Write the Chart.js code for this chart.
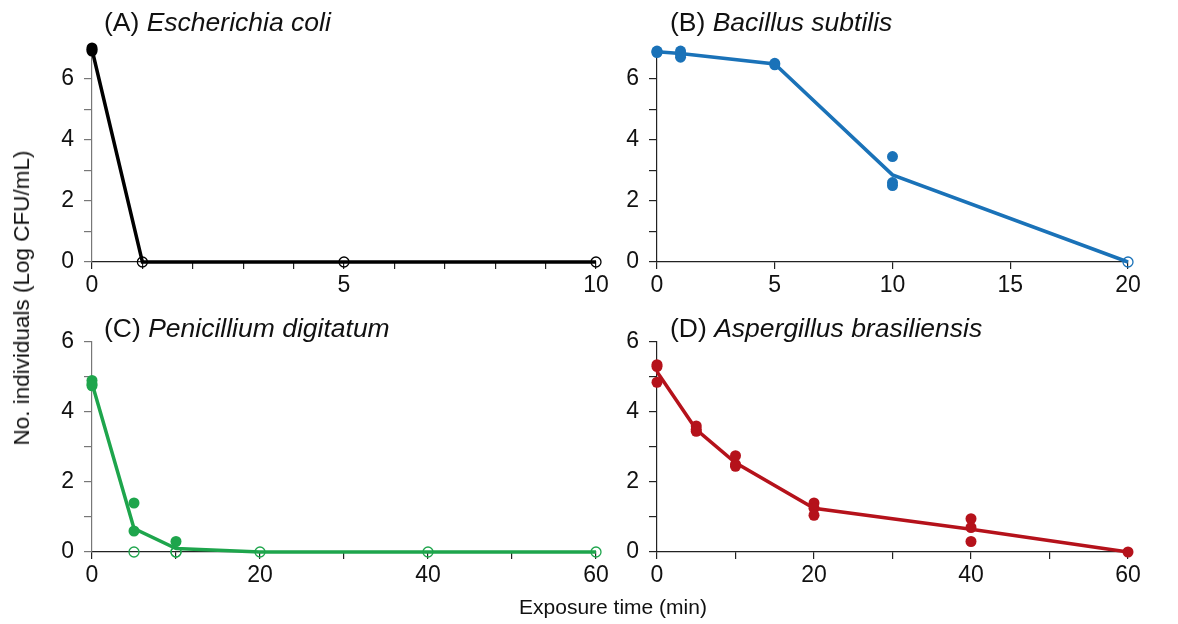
<!DOCTYPE html>
<html>
<head>
<meta charset="utf-8">
<script src="https://cdn.jsdelivr.net/npm/chart.js@4/dist/chart.umd.min.js"></script>
<style>
  body { margin: 0; background: #fff; font-family: "Liberation Sans", Arial, sans-serif; }
  #page { position: relative; width: 1178px; height: 624px; overflow: hidden; }
  .panel { position: absolute; }
  .ttl { position: absolute; font-size: 26.5px; color: #111; white-space: nowrap; }
  .ttl i { font-style: italic; }
  #ytitle { position: absolute; left: 22px; top: 298px; transform: translate(-50%, -50%) rotate(-90deg);
            font-size: 22.5px; color: #111; white-space: nowrap; }
  #xtitle { position: absolute; left: 613px; top: 607px; transform: translate(-50%, -50%);
            font-size: 21px; color: #111; white-space: nowrap; }
</style>
</head>
<body>
<div id="page">
  <div class="panel" style="left:20px;top:0;width:600px;height:310px"><canvas id="chartA"></canvas></div>
  <div class="panel" style="left:595px;top:0;width:583px;height:310px"><canvas id="chartB"></canvas></div>
  <div class="panel" style="left:20px;top:300px;width:600px;height:324px"><canvas id="chartC"></canvas></div>
  <div class="panel" style="left:595px;top:300px;width:583px;height:324px"><canvas id="chartD"></canvas></div>
  <div class="ttl" style="left:104px;top:7px">(A) <i>Escherichia coli</i></div>
  <div class="ttl" style="left:670px;top:7px">(B) <i>Bacillus subtilis</i></div>
  <div class="ttl" style="left:104px;top:313px">(C) <i>Penicillium digitatum</i></div>
  <div class="ttl" style="left:670px;top:313px">(D) <i>Aspergillus brasiliensis</i></div>
  <div id="ytitle">No. individuals (Log CFU/mL)</div>
  <div id="xtitle">Exposure time (min)</div>
</div>
<script>
// (A) Escherichia coli
var aFilledX = [0, 0, 0];
var aFilledY = [6.9, 7.0, 6.95];
var aOpenX = [1, 5, 10];
var aOpenY = [0, 0, 0];
var aLineX = [0, 1, 5, 10];
var aLineY = [6.95, 0, 0, 0];
var aXLabels = [0, 5, 10];

// (B) Bacillus subtilis
var bFilledX = [0, 0, 0, 1, 1, 1, 5, 5, 10, 10, 10];
var bFilledY = [6.85, 6.9, 6.88, 6.9, 6.8, 6.7, 6.5, 6.45, 3.45, 2.6, 2.5];
var bOpenX = [20];
var bOpenY = [0];
var bLineX = [0, 1, 5, 10, 20];
var bLineY = [6.88, 6.82, 6.48, 2.85, 0];
var bXLabels = [0, 5, 10, 15, 20];

// (C) Penicillium digitatum
var cFilledX = [0, 0, 0, 5, 5, 10];
var cFilledY = [4.9, 4.8, 4.75, 1.4, 0.6, 0.3];
var cOpenX = [5, 10, 10, 20, 40, 60];
var cOpenY = [0, 0, 0, 0, 0, 0];
var cLineX = [0, 5, 10, 20, 40, 60];
var cLineY = [4.82, 0.67, 0.1, 0, 0, 0];
var cXLabels = [0, 20, 40, 60];

// (D) Aspergillus brasiliensis
var dFilledX = [0, 0, 0, 5, 5, 5, 10, 10, 10, 20, 20, 20, 40, 40, 40, 60];
var dFilledY = [5.35, 5.3, 4.85, 3.6, 3.5, 3.45, 2.75, 2.5, 2.45, 1.4, 1.25, 1.05, 0.95, 0.7, 0.3, 0];
var dOpenX = [];
var dOpenY = [];
var dLineX = [0, 5, 10, 20, 40, 60];
var dLineY = [5.15, 3.5, 2.55, 1.25, 0.65, 0];
var dXLabels = [0, 20, 40, 60];

var yLabels = [0, 2, 4, 6];

function pts(xs, ys) {
    return xs.map((x, i) => ({ x: x, y: ys[i] }));
}

function makePanel(id, cfg) {
    new Chart(id, {
        type: "scatter",
        data: {
            datasets: [
                {
                    data: pts(cfg.filledX, cfg.filledY),
                    backgroundColor: cfg.color,
                    borderColor: cfg.color,
                    pointRadius: 5.5,
                    borderWidth: 0,
                    order: 0,
                },
                {
                    data: pts(cfg.openX, cfg.openY),
                    backgroundColor: "rgba(255,255,255,0)",
                    borderColor: cfg.color,
                    pointRadius: 5,
                    pointBorderWidth: 1.3,
                    order: 1,
                },
                {
                    type: "line",
                    data: pts(cfg.lineX, cfg.lineY),
                    borderColor: cfg.color,
                    borderWidth: 3.5,
                    pointRadius: 0,
                    tension: 0,
                    order: 2,
                },
            ],
        },
        options: {
            responsive: true,
            maintainAspectRatio: false,
            animation: false,
            clip: false,
            layout: { padding: cfg.padding },
            scales: {
                x: {
                    type: "linear",
                    min: cfg.xMin,
                    max: cfg.xMax,
                    afterFit: s => { s.height = 40; },
                    border: { display: true, color: "#222", width: 1.2 },
                    grid: { drawOnChartArea: false, drawTicks: true, tickLength: 7, color: "#222", lineWidth: 1.2 },
                    ticks: {
                        stepSize: cfg.xStep,
                        autoSkip: false,
                        maxRotation: 0,
                        padding: 3,
                        color: "#111",
                        font: { family: "Liberation Sans", size: 23 },
                        callback: v => (cfg.xLabels.includes(v) ? v : ""),
                    },
                },
                y: {
                    min: 0,
                    max: cfg.yMax,
                    afterFit: s => { s.width = 50; },
                    afterBuildTicks: s => { s.ticks = s.ticks.filter(t => t.value <= 6); },
                    border: { display: true, color: cfg.yAxisColor, width: 1.2 },
                    grid: { drawOnChartArea: false, drawTicks: true, tickLength: 8, color: cfg.yAxisColor, lineWidth: 1.2 },
                    ticks: {
                        stepSize: 1,
                        padding: 10,
                        color: "#111",
                        font: { family: "Liberation Sans", size: 23 },
                        callback: v => (yLabels.includes(v) ? v : ""),
                    },
                },
            },
            plugins: {
                legend: { display: false },
                tooltip: { enabled: false },
            },
        },
    });
}

makePanel("chartA", {
    filledX: aFilledX, filledY: aFilledY, openX: aOpenX, openY: aOpenY, lineX: aLineX, lineY: aLineY,
    xLabels: aXLabels, xMin: 0, xMax: 10, xStep: 1, yMax: 7, color: "#000000", yAxisColor: "#777",
    padding: { left: 22, right: 24, top: 48, bottom: 8 },
});
makePanel("chartB", {
    filledX: bFilledX, filledY: bFilledY, openX: bOpenX, openY: bOpenY, lineX: bLineX, lineY: bLineY,
    xLabels: bXLabels, xMin: 0, xMax: 20, xStep: 5, yMax: 7, color: "#1a72b8", yAxisColor: "#222",
    padding: { left: 12, right: 50, top: 48, bottom: 8 },
});
makePanel("chartC", {
    filledX: cFilledX, filledY: cFilledY, openX: cOpenX, openY: cOpenY, lineX: cLineX, lineY: cLineY,
    xLabels: cXLabels, xMin: 0, xMax: 60, xStep: 10, yMax: 6, color: "#1ea54c", yAxisColor: "#777",
    padding: { left: 22, right: 24, top: 42, bottom: 32 },
});
makePanel("chartD", {
    filledX: dFilledX, filledY: dFilledY, openX: dOpenX, openY: dOpenY, lineX: dLineX, lineY: dLineY,
    xLabels: dXLabels, xMin: 0, xMax: 60, xStep: 10, yMax: 6, color: "#b5121b", yAxisColor: "#222",
    padding: { left: 12, right: 50, top: 42, bottom: 32 },
});
</script>
</body>
</html>
